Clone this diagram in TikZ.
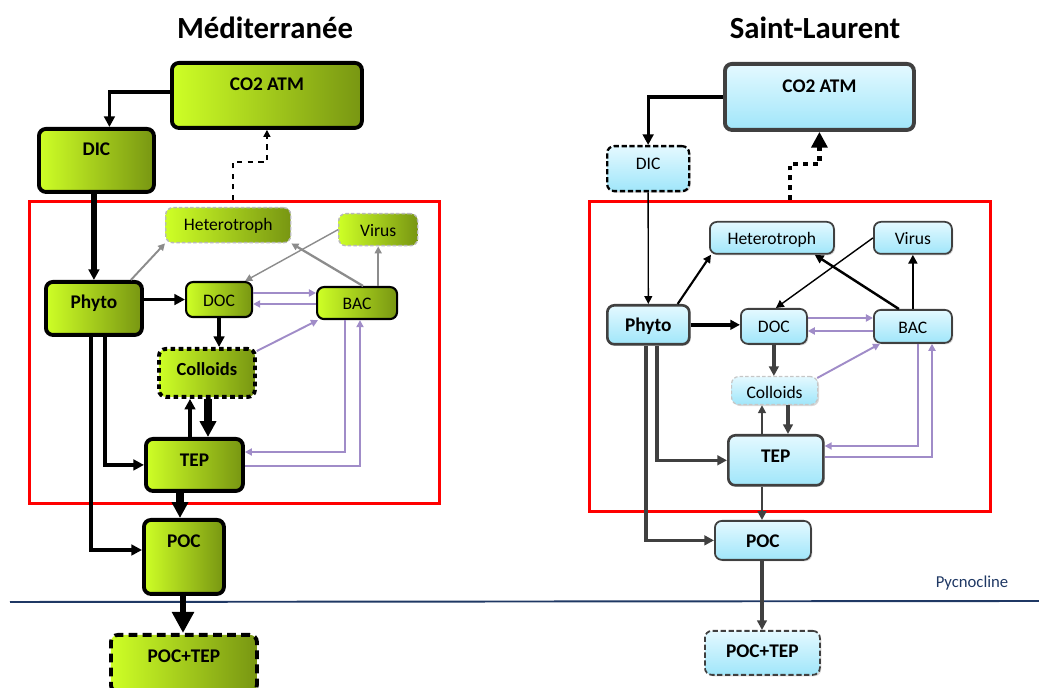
\documentclass[tikz,border=0pt]{standalone}
\usepackage{fontspec}
\setmainfont{Carlito}
\usetikzlibrary{arrows.meta,calc,shadows}
\definecolor{limeA}{RGB}{206,255,38}
\definecolor{limeB}{RGB}{120,150,18}
\definecolor{skyA}{RGB}{228,249,255}
\definecolor{skyB}{RGB}{160,230,250}
\definecolor{flux}{RGB}{160,140,200}
\definecolor{fluxgray}{RGB}{140,140,140}
\definecolor{pycblue}{RGB}{31,56,100}
\definecolor{rim}{RGB}{64,64,64}
\newlength{\pxu}
\setlength{\pxu}{0.02cm}

\tikzset{
  box/.style={anchor=north west, rounded corners=4pt, inner sep=0pt},
  sz/.style n args={3}{minimum width=#1\pxu, text height=#2\pxu, text depth=#3\pxu},
  med/.style={box, left color=limeA, right color=limeB},
  stl/.style={box, top color=skyA, bottom color=skyB,
    drop shadow={opacity=0.3, shadow xshift=0.8pt, shadow yshift=-0.8pt}},
  bld/.style={font=\fontsize{11}{13}\selectfont\bfseries},
  nrm/.style={font=\fontsize{10}{12}\selectfont},
  ttl/.style={font=\fontsize{17.5}{20}\selectfont\bfseries},
  heavyrim/.style={draw=black, line width=2.2pt},
  ghostrim/.style={draw=gray!55, line width=0.8pt, dash pattern=on 2pt off 1.2pt},
  zone/.style={anchor=north west, draw=red, line width=1.7pt, inner sep=0pt},
  ahead/.style={-{Triangle[length=#1,width=#1]}},
  recyc/.style={color=flux, line width=1.1pt, ahead=4pt},
  graze/.style={color=fluxgray, ahead=4pt},
}

\begin{document}
\begin{tikzpicture}[x=0.02cm, y=-0.02cm]
\useasboundingbox (0,0) rectangle (1039,688);

% titles
\node[ttl] (titleL) at (265,28) {Méditerranée};
\node[ttl] (titleR) at (815,28) {Saint-Laurent};

% surface layers
\node[zone, minimum width=410\pxu, minimum height=302\pxu] (zoneL) at (28,200) {};
\node[zone, minimum width=401\pxu, minimum height=310\pxu] (zoneR) at (588,200) {};

% pycnocline
\draw[pycblue, line width=1.1pt] (10,602) -- (1039,601);
\node[pycblue, font=\fontsize{9.5}{11}\selectfont, anchor=base] (pyc) at (972,588) {Pycnocline};

% Mediterranee
\node[med, bld, sz={190}{28}{37}, heavyrim] (co2L) at (170,61) {CO2 ATM};
\node[med, bld, sz={115}{27}{36}, heavyrim] (dicL) at (37,127) {DIC};
\node[med, nrm, sz={125}{23}{12}, ghostrim] (hetL) at (165,207) {Heterotroph};
\node[med, nrm, sz={79}{23}{9}, ghostrim] (virL) at (338,213) {Virus};
\node[med, bld, sz={96}{27}{26}, heavyrim] (phyL) at (44,280) {Phyto};
\node[med, nrm, sz={66}{24}{11}, draw=black, line width=1.2pt] (docL) at (185,281) {DOC};
\node[med, nrm, sz={80}{22}{10}, draw=black, line width=1.2pt] (bacL) at (316,286) {BAC};
\node[med, bld, sz={96}{27}{21}, heavyrim, dash pattern=on 2.6pt off 2pt,
  font=\fontsize{10.5}{12}\selectfont\bfseries] (colL) at (157,347) {Colloids};
\node[med, bld, sz={97}{28}{24}, heavyrim] (tepL) at (144,437) {TEP};
\node[med, bld, sz={80}{28}{46}, heavyrim] (pocL) at (142,518) {POC};
\node[med, bld, sz={146}{28}{29}, heavyrim, dash pattern=on 5pt off 3pt] (ptL) at (109,633) {POC+TEP};

\draw[line width=2.2pt, ahead=6pt] (co2L.west |- 0,92) -| ($(dicL.north)+(13,0)$);
\draw[dashed, line width=0.8pt, ahead=4pt] (zoneL.north -| 233,0) -- ++(0,-38) -| (co2L.south);
\draw[line width=3pt, ahead=6pt] (phyL.north |- dicL.south) -- (phyL.north);
% grazing and lysis
\draw[graze, line width=1.1pt] ($(phyL.north east)+(-13,0)$) -- (hetL.south west);
\draw[graze, line width=0.8pt] (virL.west) -- ($(docL.north east)+(-8,0)$);
\draw[graze, line width=1.3pt] ($(bacL.north)+(6,0)$) -- (hetL.south east);
\draw[graze, line width=1.3pt] (bacL.north -| virL.south) -- (virL.south);
% dissolved pool
\draw[line width=2.2pt, ahead=6pt] (phyL.east |- docL.west) -- (docL.west);
\draw[recyc] (docL.east |- 0,293) -- (bacL.west |- 0,293);
\draw[recyc] (bacL.west |- 0,304) -- (docL.east |- 0,304);
\draw[line width=2.2pt, ahead=6pt] (docL.south) -- (docL.south |- colL.north);
\draw[recyc] ($(colL.north east)+(0,4)$) -- ($(bacL.south west)+(2,0)$);
% aggregation
\draw[line width=2pt, ahead=6pt] (tepL.north -| 190,0) -- (colL.south -| 190,0);
\draw[line width=4.2pt, ahead=9pt] (colL.south -| 208,0) -- (tepL.north -| 208,0);
\draw[recyc] (bacL.south -| 345,0) |- (tepL.east |- 0,452);
\draw[recyc] (tepL.east |- 0,466) -| (bacL.south -| 360,0);
\draw[line width=2.2pt, ahead=6pt] (phyL.south -| 105,0) |- (tepL.west);
\draw[line width=2.2pt, ahead=6pt] (phyL.south -| 91,0) |- (pocL.west |- 0,550);
% export
\draw[line width=4.2pt, ahead=9pt] (tepL.south -| 180,0) -- (pocL.north -| 180,0);
\draw[line width=3.4pt, ahead=12pt] (pocL.south -| 183,0) -- (ptL.north -| 183,0);

% Saint-Laurent
\node[stl, bld, sz={189}{29}{37}, draw=rim, line width=2.2pt] (co2R) at (723,62) {CO2 ATM};
\node[stl, nrm, sz={82}{23}{22}, draw=black, line width=1.3pt, dash pattern=on 3pt off 1.5pt] (dicR) at (606,145) {DIC};
\node[stl, nrm, sz={124}{23}{9}, draw=rim, line width=1pt] (hetR) at (709,221) {Heterotroph};
\node[stl, nrm, sz={78}{23}{9}, draw=rim, line width=1pt] (virR) at (873,221) {Virus};
\node[stl, bld, sz={82}{26}{13}, draw=rim, line width=1.5pt] (phyR) at (606,304) {Phyto};
\node[stl, nrm, sz={66}{24}{11}, draw=rim, line width=1pt] (docR) at (740,308) {DOC};
\node[stl, nrm, sz={78}{24}{9}, draw=rim, line width=1pt] (bacR) at (873,309) {BAC};
\node[stl, nrm, sz={86}{22}{6}, draw=gray!45, line width=0.7pt, dash pattern=on 2pt off 1.2pt] (colR) at (731,376) {Colloids};
\node[stl, bld, sz={95}{27}{23}, draw=rim, line width=1.5pt] (tepR) at (727,434) {TEP};
\node[stl, bld, sz={96}{27}{12}, draw=rim, line width=1pt] (pocR) at (714,520) {POC};
\node[stl, bld, sz={115}{27}{17}, draw=rim, line width=1pt, dash pattern=on 3pt off 1.5pt] (ptR) at (704,630) {POC+TEP};

\draw[line width=1.8pt, ahead=6pt] (co2R.west) -| (dicR.north);
\draw[line width=2.8pt, dash pattern=on 2.8pt off 2.8pt, ahead=9pt] (zoneR.north -| 790,0) -- ++(0,-36) -| (co2R.south);
\draw[line width=0.8pt, ahead=4.5pt] (dicR.south) -- (phyR.north);
% grazing and lysis
\draw[line width=1.2pt, ahead=4.5pt] ($(phyR.north east)+(-13,0)$) -- ($(hetR.south west)+(2,0)$);
\draw[line width=0.8pt, ahead=4.5pt] (virR.west) -- ($(docR.north)+(2,0)$);
\draw[line width=1.4pt, ahead=5pt] ($(bacR.north)+(-14,0)$) -- ($(hetR.south east)+(-20,0)$);
\draw[line width=1.4pt, ahead=5pt] (bacR.north) -- (virR.south);
% dissolved pool
\draw[line width=2pt, ahead=5.5pt] (phyR.east) -- (docR.west |- phyR.east);
\draw[recyc] (docR.east |- 0,318) -- (bacR.west |- 0,318);
\draw[recyc] (bacR.west |- 0,331) -- (docR.east |- 0,331);
\draw[rim, line width=2pt, ahead=5.5pt] (docR.south) -- (docR.south |- colR.north);
\draw[recyc] ($(colR.north east)+(-1,2)$) -- ($(bacR.south west)+(7,0)$);
% aggregation
\draw[rim, line width=1pt, ahead=4.5pt] (tepR.north -| 762,0) -- (colR.south -| 762,0);
\draw[rim, line width=2pt, ahead=5.5pt] (colR.south -| 788,0) -- (tepR.north -| 788,0);
\draw[recyc] (bacR.south -| 918,0) |- (tepR.east |- 0,446);
\draw[recyc] (tepR.east |- 0,457) -| (bacR.south -| 932,0);
\draw[rim, line width=2pt, ahead=5.5pt] (phyR.south -| 657,0) |- (tepR.west);
\draw[rim, line width=2pt, ahead=5.5pt] (phyR.south -| 646,0) |- (pocR.west);
% export
\draw[rim, line width=1.6pt, ahead=5pt] (tepR.south -| 762,0) -- (pocR.north -| 762,0);
\draw[rim, line width=2pt, ahead=5.5pt] (pocR.south -| 762,0) -- (ptR.north -| 762,0);
\end{tikzpicture}
\end{document}
